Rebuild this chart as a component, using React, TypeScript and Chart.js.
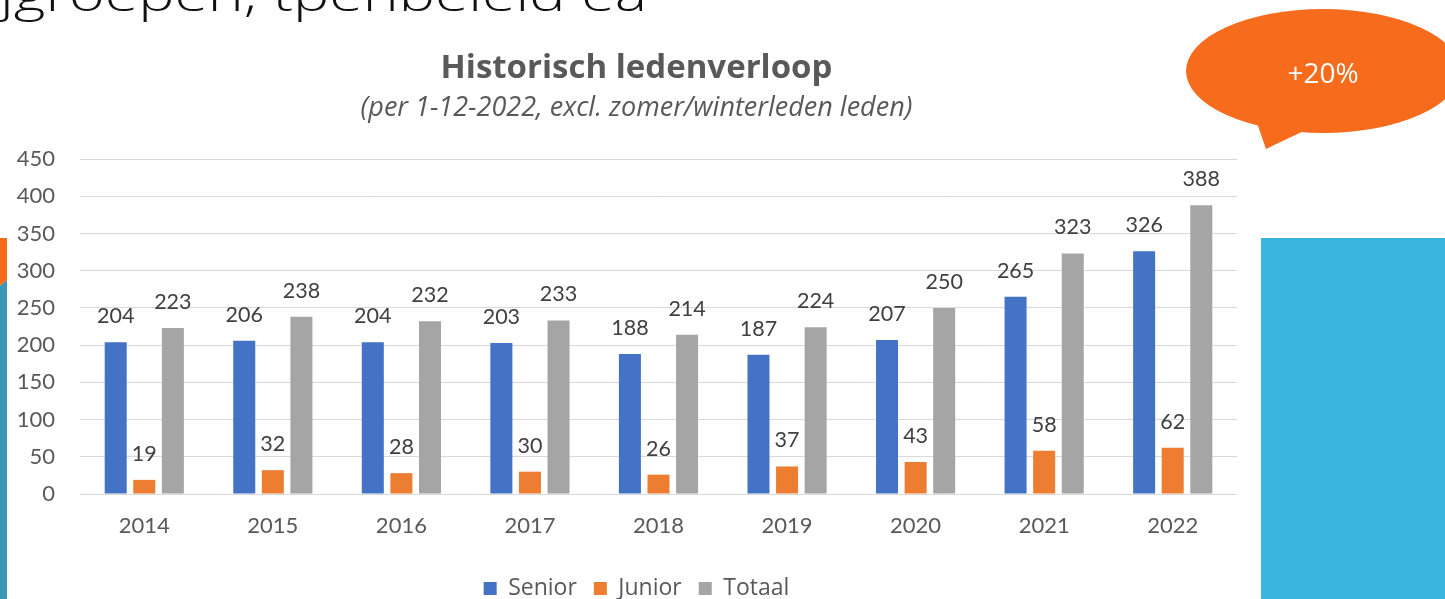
import React, { useEffect, useRef } from "react";
import { Chart, registerables } from "chart.js";

Chart.register(...registerables);

const years = ["2014", "2015", "2016", "2017", "2018", "2019", "2020", "2021", "2022"];
const senior = [204, 206, 204, 203, 188, 187, 207, 265, 326];
const junior = [19, 32, 28, 30, 26, 37, 43, 58, 62];
const totaal = [223, 238, 232, 233, 214, 224, 250, 323, 388];
const seriesNames = ["Senior", "Junior", "Totaal"];
const seriesColors = ["#4472C4", "#ED7D31", "#A5A5A5"];
const yMax = 450;
const yStep = 50;
const chartTitle = "Historisch ledenverloop";
const chartSubtitle = "(per 1-12-2022, excl. zomer/winterleden leden)";
const calloutText = "+20%";
const headingText = "jgroepen, tpenbeleid ea";

const NUM_FONT = "Lato, 'Open Sans', sans-serif";
const TXT_FONT = "'Open Sans', Lato, sans-serif";

const valueLabels = {
  id: "valueLabels",
  afterDatasetsDraw(chart: any) {
    const ctx = chart.ctx;
    ctx.save();
    ctx.font = `21.5px ${NUM_FONT}`;
    ctx.fillStyle = "#404040";
    ctx.textAlign = "center";
    ctx.textBaseline = "middle";
    chart.data.datasets.forEach((ds: any, i: number) => {
      const meta = chart.getDatasetMeta(i);
      meta.data.forEach((el: any, j: number) => {
        ctx.fillText(String(ds.data[j]), el.x, el.y - 26);
      });
    });
    ctx.restore();
  },
};

// let the y-axis tick labels use the space left of the (narrow) axis box
const widenYLabelArea = {
  id: "widenYLabelArea",
  afterLayout(chart: any) {
    const y = chart.scales.y;
    if (y) y.left = 0;
  },
};

export default function App() {
  const canvasRef = useRef<HTMLCanvasElement | null>(null);

  useEffect(() => {
    document.body.style.margin = "0";
    const ctx = canvasRef.current!.getContext("2d")!;
    const chart = new Chart(ctx, {
      type: "bar",
      data: {
        labels: years,
        datasets: [senior, junior, totaal].map((d, i) => ({
          label: seriesNames[i],
          data: d,
          backgroundColor: seriesColors[i],
          borderWidth: 0,
          categoryPercentage: 0.667,
          barPercentage: 0.77,
        })),
      },
      options: {
        responsive: false,
        animation: false,
        maintainAspectRatio: false,
        layout: { padding: { top: 0, right: 33, bottom: 0, left: 36 } },
        plugins: {
          title: {
            display: true,
            text: chartTitle,
            color: "#595959",
            font: { family: TXT_FONT, size: 33, weight: "bold" },
            padding: { top: 49, bottom: 0 },
          },
          subtitle: {
            display: true,
            text: chartSubtitle,
            color: "#595959",
            font: { family: TXT_FONT, size: 27, style: "italic" },
            padding: { top: 4, bottom: 34 },
          },
          legend: {
            position: "bottom",
            labels: {
              color: "#595959",
              font: { family: TXT_FONT, size: 23 },
              boxWidth: 13,
              boxHeight: 13,
              padding: 17,
            },
          },
          tooltip: { enabled: false },
        },
        scales: {
          x: {
            grid: { display: false, drawTicks: false },
            border: { display: false },
            ticks: { color: "#595959", font: { family: NUM_FONT, size: 22 }, padding: 19 },
            afterFit: (s: any) => {
              s.height = 66;
            },
          },
          y: {
            min: 0,
            max: yMax,
            ticks: { stepSize: yStep, color: "#595959", font: { family: NUM_FONT, size: 22 }, padding: 25 },
            grid: { color: "#D9D9D9", drawTicks: false, lineWidth: 1 },
            border: { display: false },
            afterFit: (s: any) => {
              s.width = 44;
            },
          },
        },
      },
      plugins: [valueLabels, widenYLabelArea],
    });
    return () => chart.destroy();
  }, []);

  return (
    <div style={{ position: "fixed", left: 0, top: 0, width: 1445, height: 599, background: "#fff", overflow: "hidden" }}>
      <canvas ref={canvasRef} width={1270} height={610} style={{ position: "absolute", left: 0, top: 0 }} />
      <svg width={1445} height={599} style={{ position: "absolute", left: 0, top: 0, pointerEvents: "none" }}>
        <text x={0} y={11} fontFamily="'Open Sans', sans-serif" fontWeight={300} fontSize={46} fill="#111" textLength={647} lengthAdjust="spacingAndGlyphs">
          {headingText}
        </text>
        <polygon points="0,238 7,238 7,280 0,286" fill="#F76B1C" />
        <polygon points="0,286 7,280 7,599 0,599" fill="#3A96B4" />
        <rect x={1261} y={238} width={184} height={361} fill="#3AB4E0" />
        <ellipse cx={1323} cy={71} rx={137} ry={62} fill="#F76B1D" />
        <polygon points="1256,120 1266,149 1310,128" fill="#F76B1D" />
        <text x={1323} y={83} textAnchor="middle" fontFamily="'Open Sans', sans-serif" fontSize={28} fill="#fff">
          {calloutText}
        </text>
      </svg>
    </div>
  );
}
